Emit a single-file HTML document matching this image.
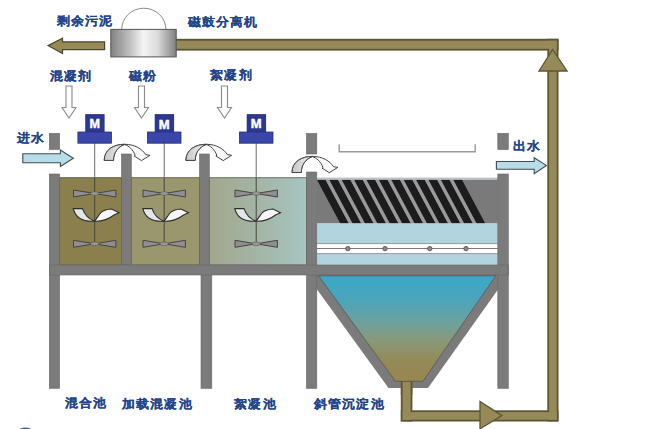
<!DOCTYPE html>
<html><head><meta charset="utf-8">
<style>
html,body{margin:0;padding:0;background:#fff;}
body{width:650px;height:429px;overflow:hidden;position:relative;}
svg{position:absolute;left:0;top:0;}
text{font-family:"Liberation Sans",sans-serif;font-weight:bold;fill:#23448a;stroke:#23448a;stroke-width:0.12;font-size:13px;letter-spacing:0.7px;}
</style></head><body>
<svg width="650" height="429" viewBox="0 0 650 429">
<defs>
  <linearGradient id="drum" x1="0" x2="1" y1="0" y2="0">
    <stop offset="0" stop-color="#828282"/>
    <stop offset="0.3" stop-color="#c2c2c2"/>
    <stop offset="0.5" stop-color="#f4f4f4"/>
    <stop offset="0.72" stop-color="#dadada"/>
    <stop offset="1" stop-color="#7e7e7e"/>
  </linearGradient>
  <linearGradient id="cone" x1="0" x2="0" y1="0" y2="1">
    <stop offset="0" stop-color="#3aa8c6"/>
    <stop offset="0.22" stop-color="#4aa5bb"/>
    <stop offset="0.42" stop-color="#6aa2a2"/>
    <stop offset="0.62" stop-color="#8a9878"/>
    <stop offset="0.8" stop-color="#948a58"/>
    <stop offset="1" stop-color="#988650"/>
  </linearGradient>
  <linearGradient id="t3" x1="0" x2="1" y1="0" y2="0">
    <stop offset="0" stop-color="#a2a78c"/>
    <stop offset="0.5" stop-color="#a3b5a6"/>
    <stop offset="1" stop-color="#a7c5c2"/>
  </linearGradient>
  <linearGradient id="rib" x1="0" x2="1" y1="0" y2="0">
    <stop offset="0" stop-color="#c8c8c8"/>
    <stop offset="1" stop-color="#f0f0f0"/>
  </linearGradient>
</defs>

<!-- return pipe -->
<g fill="#5e5535">
  <rect x="176" y="38.8" width="382.5" height="11.8"/>
  <rect x="547.3" y="38.8" width="11.2" height="382.7"/>
  <rect x="400.8" y="376" width="11.6" height="45.5"/>
  <rect x="400.8" y="410.3" width="157.7" height="11.2"/>
</g>
<g fill="#968b58">
  <rect x="176" y="40.7" width="380.7" height="8.1"/>
  <rect x="549.1" y="40.7" width="7.6" height="379"/>
  <rect x="402.6" y="376" width="8" height="43.7"/>
  <rect x="402.6" y="412.1" width="154.1" height="7.6"/>
</g>
<path d="M502,415.6 L480,401.5 L480,428.8 Z" fill="#968b58" stroke="#5e5535" stroke-width="1.3"/>
<path d="M552.6,49.5 L539,71 L567,71 Z" fill="#968b58" stroke="#5e5535" stroke-width="1.3"/>

<!-- sludge arrow -->
<path d="M48.1,45.6 L62.5,38.3 L62.5,41.8 L104.6,41.8 L104.6,49.6 L62.5,49.6 L62.5,53.6 Z" fill="#978a55" stroke="#4a4630" stroke-width="1.2"/>

<!-- drum -->
<path d="M121.7,29.4 A22.1,21.2 0 0 1 165.9,29.4" fill="#fff" stroke="#8a8a8a" stroke-width="1"/>
<rect x="110.8" y="29.4" width="65.4" height="27.5" fill="url(#drum)" stroke="#555" stroke-width="1"/>

<!-- chemical down arrows -->
<g fill="#fff" stroke="#8a8a8a" stroke-width="1.1">
  <path d="M66,86 L72,86 L72,107.5 L76,107.5 L69,118 L62,107.5 L66,107.5 Z"/>
  <path d="M138.5,86 L144.5,86 L144.5,107.5 L148.5,107.5 L141.5,118 L134.5,107.5 L138.5,107.5 Z"/>
  <path d="M221.5,86 L227.5,86 L227.5,107.5 L231.5,107.5 L224.5,118 L217.5,107.5 L221.5,107.5 Z"/>
</g>

<!-- tanks fill -->
<rect x="59.6" y="177.7" width="61.9" height="87.3" fill="#8b7f4e" stroke="#6a6440" stroke-width="1"/>
<rect x="131.3" y="177.7" width="68.2" height="87.3" fill="#9a976f" stroke="#6a6a50" stroke-width="1"/>
<rect x="209.3" y="177.7" width="97.2" height="87.3" fill="url(#t3)" stroke="#6a7068" stroke-width="1"/>

<!-- settler -->
<rect x="316.8" y="179.5" width="181" height="44" fill="#7a7a7a"/>
<clipPath id="tubes"><rect x="316.8" y="179.5" width="181" height="44"/></clipPath>
<g clip-path="url(#tubes)"><path d="M316.8,179.5 L325.4,179.5 L348.9,223.5 L340.3,223.5 Z" fill="#1c1c1c"/><path d="M325.4,179.5 L329.2,179.5 L352.7,223.5 L348.9,223.5 Z" fill="#9a9a9a"/><path d="M329.2,179.5 L337.8,179.5 L361.3,223.5 L352.7,223.5 Z" fill="#1c1c1c"/><path d="M337.8,179.5 L341.6,179.5 L365.1,223.5 L361.3,223.5 Z" fill="#9a9a9a"/><path d="M341.6,179.5 L350.2,179.5 L373.7,223.5 L365.1,223.5 Z" fill="#1c1c1c"/><path d="M350.2,179.5 L354.0,179.5 L377.5,223.5 L373.7,223.5 Z" fill="#9a9a9a"/><path d="M354.0,179.5 L362.6,179.5 L386.1,223.5 L377.5,223.5 Z" fill="#1c1c1c"/><path d="M362.6,179.5 L366.4,179.5 L389.9,223.5 L386.1,223.5 Z" fill="#9a9a9a"/><path d="M366.4,179.5 L375.0,179.5 L398.5,223.5 L389.9,223.5 Z" fill="#1c1c1c"/><path d="M375.0,179.5 L378.8,179.5 L402.3,223.5 L398.5,223.5 Z" fill="#9a9a9a"/><path d="M378.8,179.5 L387.4,179.5 L410.9,223.5 L402.3,223.5 Z" fill="#1c1c1c"/><path d="M387.4,179.5 L391.2,179.5 L414.7,223.5 L410.9,223.5 Z" fill="#9a9a9a"/><path d="M391.2,179.5 L399.8,179.5 L423.3,223.5 L414.7,223.5 Z" fill="#1c1c1c"/><path d="M399.8,179.5 L403.6,179.5 L427.1,223.5 L423.3,223.5 Z" fill="#9a9a9a"/><path d="M403.6,179.5 L412.2,179.5 L435.7,223.5 L427.1,223.5 Z" fill="#1c1c1c"/><path d="M412.2,179.5 L416.0,179.5 L439.5,223.5 L435.7,223.5 Z" fill="#9a9a9a"/><path d="M416.0,179.5 L424.6,179.5 L448.1,223.5 L439.5,223.5 Z" fill="#1c1c1c"/><path d="M424.6,179.5 L428.4,179.5 L451.9,223.5 L448.1,223.5 Z" fill="#9a9a9a"/><path d="M428.4,179.5 L437.0,179.5 L460.5,223.5 L451.9,223.5 Z" fill="#1c1c1c"/><path d="M437.0,179.5 L440.8,179.5 L464.3,223.5 L460.5,223.5 Z" fill="#9a9a9a"/><path d="M440.8,179.5 L449.4,179.5 L472.9,223.5 L464.3,223.5 Z" fill="#1c1c1c"/><path d="M449.4,179.5 L453.2,179.5 L476.7,223.5 L472.9,223.5 Z" fill="#9a9a9a"/><path d="M453.2,179.5 L461.8,179.5 L485.3,223.5 L476.7,223.5 Z" fill="#1c1c1c"/></g>
<rect x="316.8" y="223.5" width="181" height="41.5" fill="#b2d4de"/>
<rect x="316.8" y="177.6" width="181" height="2" fill="#b4c2c4"/>
<rect x="316.8" y="243.4" width="181" height="10.4" fill="#fff"/>
<line x1="316.8" y1="243.6" x2="497.8" y2="243.6" stroke="#999" stroke-width="1"/>
<line x1="316.8" y1="248.5" x2="497.8" y2="248.5" stroke="#7a7a7a" stroke-width="1.2"/>
<line x1="316.8" y1="253.6" x2="497.8" y2="253.6" stroke="#999" stroke-width="1"/>
<g fill="#8a8a8a" stroke="#555" stroke-width="0.9">
  <circle cx="347.8" cy="248.6" r="2.2"/><circle cx="385" cy="248.6" r="2.2"/>
  <circle cx="429.8" cy="248.6" r="2.2"/><circle cx="466" cy="248.6" r="2.2"/>
</g>

<!-- cone -->
<path d="M306.5,275 L508.3,275 L428,388 L388.5,388 Z" fill="#7b7b7b"/>
<path d="M318.5,275.8 L495.8,275.8 L423,381.3 L395.4,381.3 Z" fill="url(#cone)" stroke="#555" stroke-width="0.8"/>
<rect x="400.8" y="381" width="11.6" height="14" fill="#5e5535"/>
<rect x="402.6" y="381.8" width="8" height="14" fill="#968b58"/>

<!-- walls -->
<g fill="#7b7b7b" stroke="#666" stroke-width="0.6">
  <rect x="49.3" y="174" width="10.3" height="214.3"/>
  <rect x="49.3" y="133.4" width="10.3" height="16"/>
  <rect x="121.5" y="154" width="9.8" height="111"/>
  <rect x="199.5" y="154" width="9.8" height="112"/>
  <rect x="201" y="270" width="10.8" height="118.3"/>
  <rect x="306.5" y="172" width="10.3" height="216.3"/>
  <rect x="306.5" y="133.5" width="10.3" height="20.5"/>
  <rect x="497.8" y="174" width="10.5" height="214.3"/>
  <rect x="497.8" y="133.3" width="10.5" height="16.2"/>
  <rect x="49.3" y="265" width="459" height="10"/>
</g>

<!-- inlet / outlet arrows -->
<path d="M22.8,153.8 L60.4,153.8 L60.4,150.1 L73.3,158.2 L60.4,166.5 L60.4,162.8 L22.8,162.8 Z" fill="#b8dde8" stroke="#3c4c54" stroke-width="1.1"/>
<path d="M496.4,161.5 L534.2,161.5 L534.2,157.7 L546.4,165.4 L534.2,173.7 L534.2,169.2 L496.4,169.2 Z" fill="#b8dde8" stroke="#3c4c54" stroke-width="1.1"/>

<!-- bracket -->
<path d="M339.2,144.2 L339.2,151.7 L475.2,151.7 L475.2,144.2" fill="none" stroke="#9a9a9a" stroke-width="1.4"/>

<!-- curved flow arrows -->
<g id="carrow">
  <path d="M104.2,160.4 C104.2,149.5 114,144.3 124.5,144.3 C135,144.3 142,149 145.7,154.6 L150,155.3 L141.5,160.6 L134.2,156 L135.2,155.4 C133,149.5 128.5,145.5 124.5,144.6 C118,146.8 113.5,152.5 113.5,160.4 Z" fill="#fafafa" stroke="#444" stroke-width="1"/>
  <path d="M104.2,160.4 C104.2,149.5 114,144.3 124.5,144.3 C118,146.8 113.5,152.5 113.5,160.4 Z" fill="url(#rib)" stroke="#444" stroke-width="1"/>
</g>
<use href="#carrow" x="81.7" y="0"/>
<use href="#carrow" x="187.8" y="12.1"/>

<!-- motors, shafts, impellers -->
<g id="mix">
  <line x1="94.7" y1="143" x2="94.7" y2="178" stroke="#6a6a6a" stroke-width="1"/>
  <line x1="94.7" y1="178" x2="94.7" y2="245" stroke="#45453a" stroke-width="1"/>
  <rect x="85.2" y="114.1" width="19.4" height="18" fill="#2d3790"/>
  <rect x="77.9" y="132" width="33.6" height="11.2" fill="#3a47a8" stroke="#26307a" stroke-width="0.8"/>
  <path d="M73.5,190 L73.5,197 L94.7,193.5 Z M115.9,190 L115.9,197 L94.7,193.5 Z" fill="#8e8e94" stroke="#45453c" stroke-width="1"/>
  <ellipse cx="94.7" cy="193.5" rx="4" ry="1.8" fill="#999" stroke="#555" stroke-width="0.6"/>
  <path d="M73.5,240.3 L73.5,247.3 L94.7,243.8 Z M115.9,240.3 L115.9,247.3 L94.7,243.8 Z" fill="#8e8e94" stroke="#45453c" stroke-width="1"/>
  <ellipse cx="94.7" cy="243.8" rx="4" ry="1.8" fill="#999" stroke="#555" stroke-width="0.6"/>
  <path d="M73.3,208.6 L82.5,208.6 C84,213 88,218.5 94.5,221.2 C84,221.8 75.5,218 73.3,208.6 Z" fill="#e2e6e8" stroke="#2e2e2a" stroke-width="1.1"/>
  <path d="M94.5,221.2 C101,221.5 109,219 114,215 L119,212.7 L111.5,209 C107,209.3 103.5,210.5 101.1,212.3 C98.5,215 97,218.5 94.5,221.2 Z" fill="#f6f6f8" stroke="#2e2e2a" stroke-width="1.1"/>
</g>
<use href="#mix" x="69.5" y="0"/>
<use href="#mix" x="161.5" y="0"/>

<ellipse cx="25.4" cy="429.8" rx="6.5" ry="2.3" fill="#4a6a88"/>
<text x="89.6" y="128.0" textLength="11.2" lengthAdjust="spacingAndGlyphs" style="fill:#fff;stroke:#fff;stroke-width:0.45;font-size:12.5px;font-weight:bold;font-family:'Liberation Sans',sans-serif">M</text>
<text x="158.7" y="129.3" textLength="11.6" lengthAdjust="spacingAndGlyphs" style="fill:#fff;stroke:#fff;stroke-width:0.45;font-size:12.5px;font-weight:bold;font-family:'Liberation Sans',sans-serif">M</text>
<text x="250.7" y="128.0" textLength="11.6" lengthAdjust="spacingAndGlyphs" style="fill:#fff;stroke:#fff;stroke-width:0.45;font-size:12.5px;font-weight:bold;font-family:'Liberation Sans',sans-serif">M</text>
<!-- labels -->
<text transform="translate(57.0,25.4) scale(1,0.93)" x="0" y="0">剩余污泥</text>
<text transform="translate(187.6,26.0) scale(1,0.93)" x="0" y="0">磁鼓分离机</text>
<text transform="translate(50.0,79.7) scale(1,0.93)" x="0" y="0">混凝剂</text>
<text transform="translate(129.1,79.8) scale(1,0.93)" x="0" y="0">磁粉</text>
<text transform="translate(210.2,79.3) scale(1,0.93)" x="0" y="0">絮凝剂</text>
<text transform="translate(16.9,142.3) scale(1,0.93)" x="0" y="0">进水</text>
<text transform="translate(512.6,150.2) scale(1,0.93)" x="0" y="0">出水</text>
<text transform="translate(64.6,407.4) scale(1,0.93)" x="0" y="0">混合池</text>
<text transform="translate(122.0,407.9) scale(1,0.93)" x="0" y="0">加载混凝池</text>
<text transform="translate(234.2,407.7) scale(1,0.93)" x="0" y="0">絮凝池</text>
<text transform="translate(314.0,407.9) scale(1,0.93)" x="0" y="0">斜管沉淀池</text>
</svg>
</body></html>
